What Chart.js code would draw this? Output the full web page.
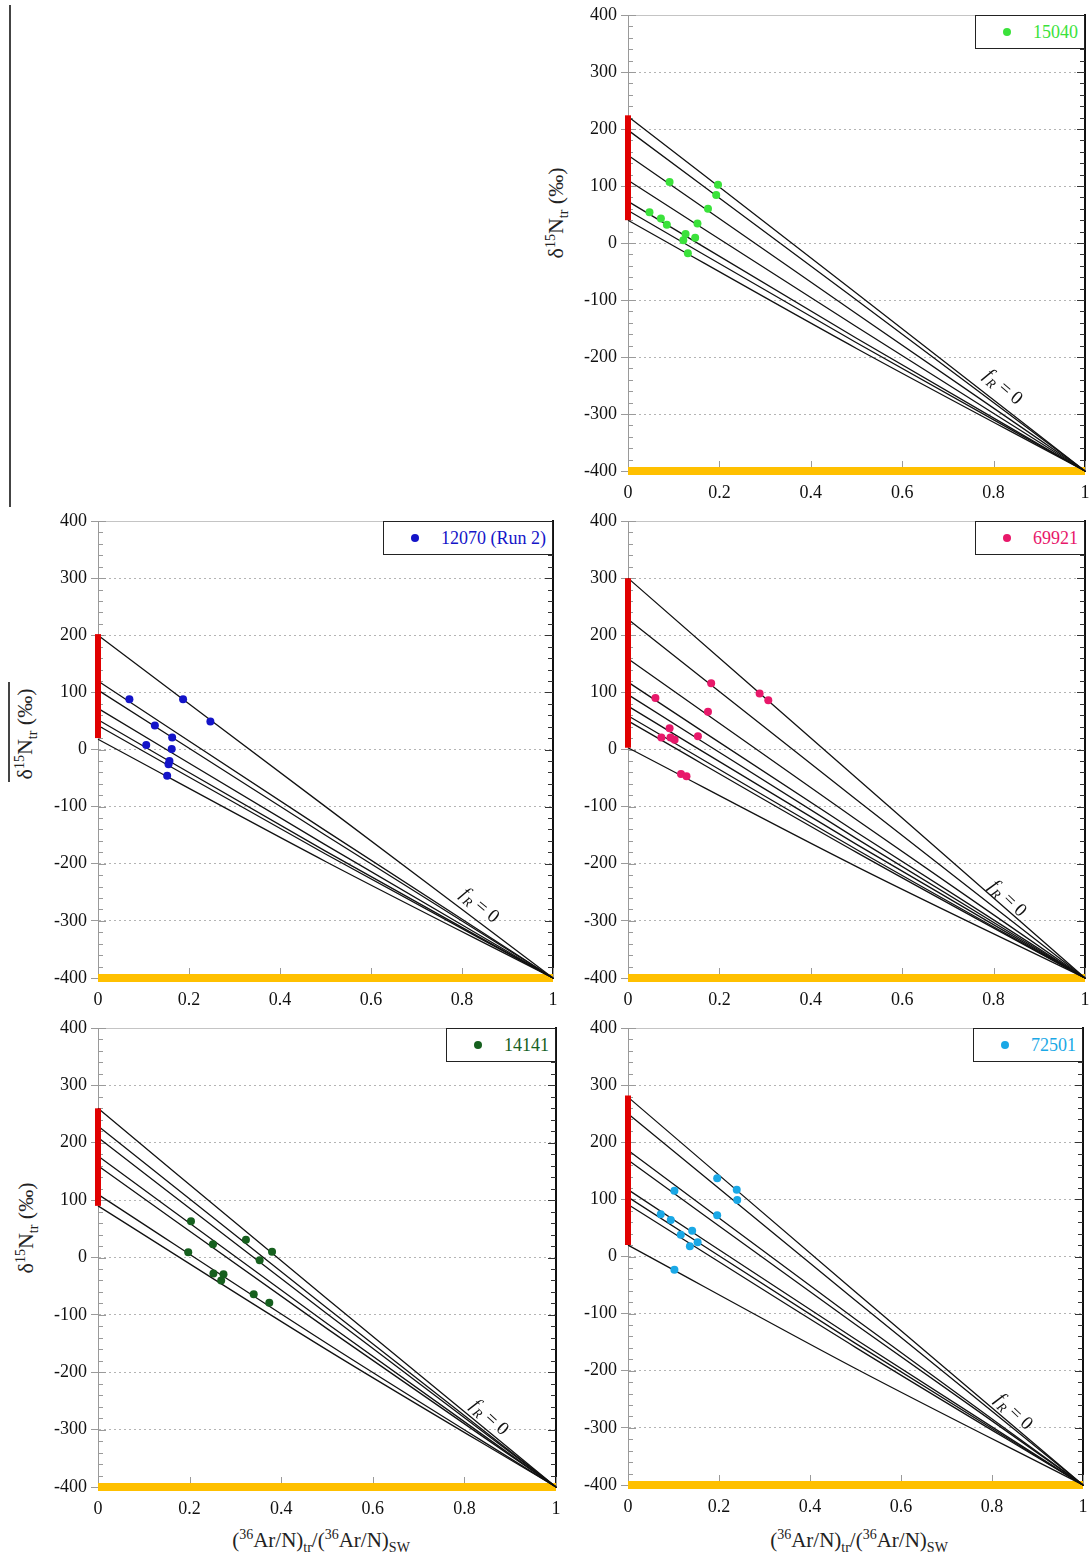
<!DOCTYPE html>
<html>
<head>
<meta charset="utf-8">
<script src="https://cdn.jsdelivr.net/npm/chart.js@4.4.1/dist/chart.umd.min.js"></script>
<style>
  body { margin: 0; background: #fff; width: 1089px; height: 1560px; position: relative; overflow: hidden;
         font-family: "Liberation Serif", "Times New Roman", serif; color: #222; }
  .panel { position: absolute; }
  .panel canvas { position: absolute; left: 0; top: 0; }
  .legend { position: absolute; height: 34px; box-sizing: border-box; border: 1.5px solid #222; background: #fff;
            display: flex; align-items: center; padding: 0 6px 0 27px; font-size: 18px; white-space: nowrap; }
  .legend .dot { width: 8px; height: 8px; border-radius: 50%; margin-right: 22px; }
  .ytitle { position: absolute; transform: translate(-50%, -50%) rotate(-90deg); font-size: 22px; white-space: nowrap; }
  .xtitle { position: absolute; transform: translate(-50%, -50%); font-size: 21px; white-space: nowrap; }
  sup, sub { font-size: 14px; line-height: 0; }
  .rule { position: absolute; background: #444; }
</style>
</head>
<body>
<div class="rule" style="left:9px; top:5px; width:1.5px; height:502px;"></div>
<div class="rule" style="left:8px; top:682px; width:1.5px; height:100px;"></div>

<div class="ytitle" style="left:556px; top:213px;">δ<sup>15</sup>N<sub>tr</sub> (‰)</div>
<div class="ytitle" style="left:25px; top:734px;">δ<sup>15</sup>N<sub>tr</sub> (‰)</div>
<div class="ytitle" style="left:26px; top:1228px;">δ<sup>15</sup>N<sub>tr</sub> (‰)</div>
<div class="xtitle" style="left:321px; top:1540px;">(<sup>36</sup>Ar/N)<sub>tr</sub>/(<sup>36</sup>Ar/N)<sub>SW</sub></div>
<div class="xtitle" style="left:859px; top:1540px;">(<sup>36</sup>Ar/N)<sub>tr</sub>/(<sup>36</sup>Ar/N)<sub>SW</sub></div>

<script>
const FONT = '"Liberation Serif", "Times New Roman", serif';

// mixing curves: value at x = 0 (start), at x = 0.5 (mid), and the common end member at x = 1
const curveX = [0, 0.5, 1];
const endMember = -400;

// 15040
const s15040X = [0.091, 0.047, 0.072, 0.085, 0.126, 0.121, 0.147, 0.131, 0.152, 0.175, 0.193, 0.197];
const s15040Y = [107, 54, 43, 32, 16, 5, 9, -18, 34, 60, 84, 102];
const s15040Start = [222, 198, 154, 110, 73, 57, 40];
const s15040Mid = [-88, -100, -124, -147, -167, -175, -185];
const s15040Bar = [40, 224];

// 12070 (Run 2)
const s12070X = [0.069, 0.187, 0.247, 0.125, 0.163, 0.162, 0.106, 0.157, 0.155, 0.152];
const s12070Y = [88, 88, 49, 42, 21, 1, 8, -20, -26, -46];
const s12070Start = [200, 120, 104, 72, 52, 42, 18];
const s12070Mid = [-100, -142, -150, -167, -178, -183, -196];
const s12070Bar = [20, 202];

// 69921
const s69921X = [0.060, 0.182, 0.288, 0.307, 0.175, 0.091, 0.073, 0.093, 0.102, 0.153, 0.116, 0.128];
const s69921Y = [90, 116, 98, 86, 66, 37, 21, 21, 17, 23, -43, -47];
const s69921Start = [300, 228, 159, 118, 96, 76, 59, 50, 3];
const s69921Mid = [-50, -88, -123, -145, -156, -166, -175, -180, -205];
const s69921Bar = [3, 300];

// 14141
const s14141X = [0.203, 0.197, 0.251, 0.323, 0.380, 0.353, 0.252, 0.274, 0.269, 0.340, 0.374];
const s14141Y = [63, 9, 23, 31, 10, -5, -28, -29, -40, -64, -79];
const s14141Start = [260, 229, 209, 177, 160, 110, 90];
const s14141Mid = [-72, -88, -98, -115, -124, -150, -161];
const s14141Bar = [90, 260];

// 72501
const s72501X = [0.196, 0.239, 0.240, 0.102, 0.196, 0.072, 0.094, 0.141, 0.116, 0.153, 0.136, 0.102];
const s72501Y = [137, 117, 99, 115, 72, 74, 64, 45, 38, 25, 18, -23];
const s72501Start = [279, 250, 186, 169, 117, 104, 91, 20];
const s72501Mid = [-62, -77, -110, -119, -145, -152, -159, -196];
const s72501Bar = [20, 282];

// layout only: canvas box and wanted plot area (page pixels), fR label anchor (data units)
const panels = [
  { name: '15040', color: '#3be23b', xs: s15040X, ys: s15040Y, starts: s15040Start, mids: s15040Mid, bar: s15040Bar,
    box: { left: 540, top: 0, h: 505 }, area: { left: 628, right: 1085, top: 15, bottom: 471 }, frAt: [0.822, -252] },
  { name: '12070 (Run 2)', color: '#1414c8', xs: s12070X, ys: s12070Y, starts: s12070Start, mids: s12070Mid, bar: s12070Bar,
    box: { left: 0, top: 505, h: 505 }, area: { left: 98, right: 553, top: 521, bottom: 978 }, frAt: [0.84, -272] },
  { name: '69921', color: '#e8186a', xs: s69921X, ys: s69921Y, starts: s69921Start, mids: s69921Mid, bar: s69921Bar,
    box: { left: 540, top: 505, h: 505 }, area: { left: 628, right: 1085, top: 521, bottom: 978 }, frAt: [0.832, -260] },
  { name: '14141', color: '#16601e', xs: s14141X, ys: s14141Y, starts: s14141Start, mids: s14141Mid, bar: s14141Bar,
    box: { left: 0, top: 1010, h: 520 }, area: { left: 98, right: 556, top: 1028, bottom: 1487 }, frAt: [0.856, -278] },
  { name: '72501', color: '#1aa8e6', xs: s72501X, ys: s72501Y, starts: s72501Start, mids: s72501Mid, bar: s72501Bar,
    box: { left: 540, top: 1010, h: 520 }, area: { left: 628, right: 1083, top: 1028, bottom: 1485 }, frAt: [0.849, -271] },
];

const Y_AXIS_W = 60;
const X_AXIS_H = 30;
const RIGHT_ROOM = 20;   // room for the overflow of the last x label
const isMajor = v => Math.round(v) % 100 === 0;

// inward minor/major ticks and the rotated "fR = 0" label
const decorPlugin = {
  id: 'decor',
  beforeDatasetsDraw(chart) {
    const { ctx, chartArea: a, scales: { x, y } } = chart;
    ctx.save();
    ctx.lineWidth = 1;
    y.ticks.forEach(t => {
      const py = Math.round(y.getPixelForValue(t.value)) + 0.5;
      const len = isMajor(t.value) ? 8 : 5;
      ctx.strokeStyle = '#9a9a9a';
      ctx.beginPath(); ctx.moveTo(a.left, py); ctx.lineTo(a.left + len, py); ctx.stroke();
      ctx.strokeStyle = '#333';
      ctx.beginPath(); ctx.moveTo(a.right, py); ctx.lineTo(a.right - len, py); ctx.stroke();
    });
    x.ticks.forEach(t => {
      const px = Math.round(x.getPixelForValue(t.value)) + 0.5;
      ctx.strokeStyle = '#9a9a9a';
      ctx.beginPath(); ctx.moveTo(px, a.bottom); ctx.lineTo(px, a.bottom - 10); ctx.stroke();
    });
    ctx.restore();
  },
  afterDatasetsDraw(chart, args, opts) {
    const { ctx, scales: { x, y } } = chart;
    const cx = x.getPixelForValue(opts.frAt[0]);
    const cy = y.getPixelForValue(opts.frAt[1]);
    const ang = Math.atan2(y.getPixelForValue(endMember) - y.getPixelForValue(opts.topStart),
                           x.getPixelForValue(1) - x.getPixelForValue(0)) + 0.05;
    const fBig = `italic 19px ${FONT}`, fSub = `italic 13px ${FONT}`, fRest = `19px ${FONT}`;
    ctx.save();
    ctx.translate(cx, cy);
    ctx.rotate(ang);
    ctx.fillStyle = '#111';
    ctx.textBaseline = 'alphabetic';
    ctx.font = fBig; const w1 = ctx.measureText('f').width + 1;
    ctx.font = fSub; const w2 = ctx.measureText('R').width;
    ctx.font = fRest; const w3 = ctx.measureText(' = 0').width;
    let sx = -(w1 + w2 + w3) / 2;
    ctx.font = fBig; ctx.fillText('f', sx, 6); sx += w1;
    ctx.font = fSub; ctx.fillText('R', sx, 10); sx += w2;
    ctx.font = fRest; ctx.fillText(' = 0', sx, 6);
    ctx.restore();
  }
};

function makePanel(p) {
  const w = p.area.right + RIGHT_ROOM - p.box.left;
  const wrap = document.createElement('div');
  wrap.className = 'panel';
  Object.assign(wrap.style, { left: p.box.left + 'px', top: p.box.top + 'px', width: w + 'px', height: p.box.h + 'px' });
  const canvas = document.createElement('canvas');
  canvas.width = w;
  canvas.height = p.box.h;
  wrap.appendChild(canvas);
  document.body.appendChild(wrap);

  const padding = {
    left: p.area.left - p.box.left - Y_AXIS_W,
    right: RIGHT_ROOM,
    top: p.area.top - p.box.top,
    bottom: p.box.top + p.box.h - p.area.bottom - X_AXIS_H
  };

  const datasets = [];
  datasets.push({
    label: p.name,
    data: p.xs.map((x, i) => ({ x, y: p.ys[i] })),
    backgroundColor: p.color, borderColor: p.color,
    pointRadius: 4, pointBorderWidth: 0, showLine: false, order: 0
  });
  datasets.push({
    data: [{ x: 0, y: p.bar[0] }, { x: 0, y: p.bar[1] }],
    borderColor: '#e00000', borderWidth: 6, borderCapStyle: 'butt',
    pointRadius: 0, showLine: true, clip: false, order: 1
  });
  p.starts.forEach((s, i) => {
    const vals = [s, p.mids[i], endMember];
    datasets.push({
      data: curveX.map((x, k) => ({ x, y: vals[k] })),
      borderColor: '#111', borderWidth: 1.3,
      pointRadius: 0, showLine: true, cubicInterpolationMode: 'monotone', clip: false, order: 2
    });
  });
  datasets.push({
    data: [{ x: 0, y: endMember }, { x: 1, y: endMember }],
    borderColor: '#ffc000', borderWidth: 8, borderCapStyle: 'butt',
    pointRadius: 0, showLine: true, clip: false, order: 3
  });

  const chart = new Chart(canvas, {
    type: 'scatter',
    data: { datasets },
    options: {
      responsive: false,
      animation: false,
      events: [],
      layout: { padding },
      plugins: {
        legend: { display: false },
        tooltip: { enabled: false },
        decor: { frAt: p.frAt, topStart: p.starts[0] }
      },
      scales: {
        x: {
          type: 'linear', position: 'bottom', min: 0, max: 1,
          ticks: {
            stepSize: 0.2, color: '#111', font: { family: FONT, size: 18 }, padding: 3, maxRotation: 0,
            callback: v => String(Math.round(v * 10) / 10)
          },
          grid: { drawOnChartArea: false, drawTicks: true, tickLength: 8, tickColor: 'rgba(0,0,0,0)' },
          border: { color: '#9a9a9a', width: 1 },
          afterFit: s => { s.height = X_AXIS_H; }
        },
        x2: {
          type: 'linear', position: 'top', min: 0, max: 1,
          ticks: { display: false },
          grid: { drawOnChartArea: false, drawTicks: false },
          border: { color: '#c4c4c4', width: 1 },
          afterFit: s => { s.height = 0; }
        },
        y: {
          type: 'linear', position: 'left', min: -400, max: 400,
          ticks: {
            stepSize: 20, autoSkip: false, color: '#111', padding: 4,
            font: { family: FONT, size: 18 },
            callback: v => (isMajor(v) ? String(Math.round(v)) : '')
          },
          grid: {
            color: c => (c.tick && isMajor(c.tick.value) ? '#b4b4b4' : 'rgba(0,0,0,0)'),
            tickColor: c => (c.tick && isMajor(c.tick.value) ? '#9a9a9a' : 'rgba(0,0,0,0)'),
            tickLength: 7, lineWidth: 1
          },
          border: { color: '#9a9a9a', width: 1, dash: [2, 3] },
          afterFit: s => { s.width = Y_AXIS_W; }
        },
        y2: {
          type: 'linear', position: 'right', min: -400, max: 400,
          ticks: { display: false },
          grid: { drawOnChartArea: false, drawTicks: false },
          border: { color: '#111', width: 2 },
          afterFit: s => { s.width = 0; }
        }
      }
    },
    plugins: [decorPlugin]
  });

  // legend box anchored to the top-right corner of the plot area
  const a = chart.chartArea;
  const leg = document.createElement('div');
  leg.className = 'legend';
  leg.style.right = (w - a.right) + 'px';
  leg.style.top = a.top + 'px';
  leg.innerHTML = `<span class="dot" style="background:${p.color}"></span><span style="color:${p.color}">${p.name}</span>`;
  wrap.appendChild(leg);
}

Chart.defaults.font.family = FONT;
panels.forEach(makePanel);
</script>
</body>
</html>
